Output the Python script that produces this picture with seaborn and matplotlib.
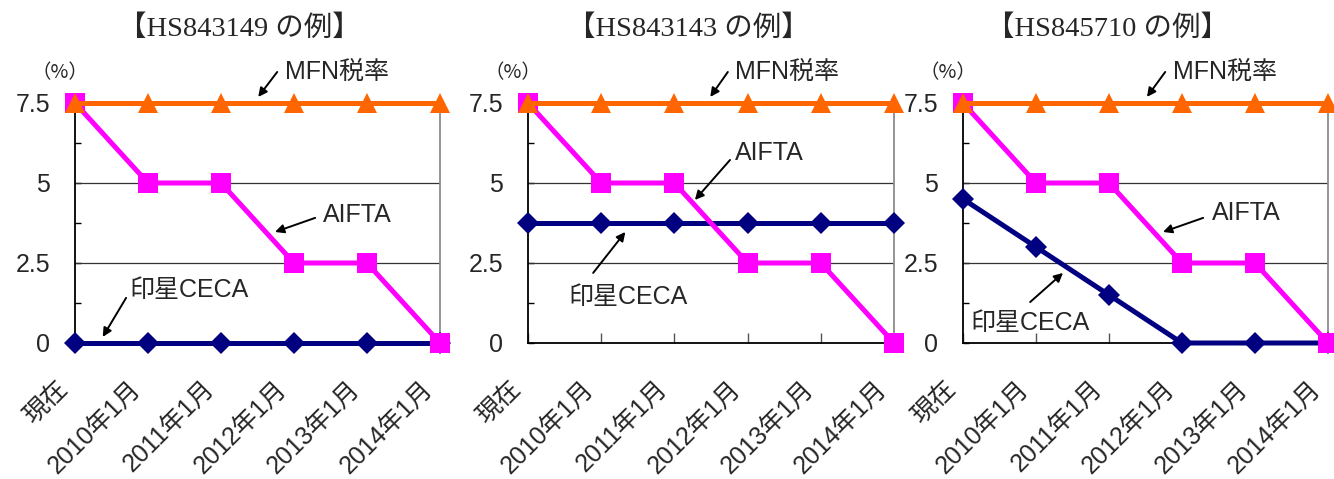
import matplotlib
matplotlib.use("Agg")
import matplotlib.pyplot as plt
from matplotlib.transforms import ScaledTranslation
import seaborn as sns
import pandas as pd

sns.set_theme(style="white")
plt.rcParams["font.family"] = ["Liberation Sans", "Noto Sans CJK JP"]

# ---- data -------------------------------------------------------------
periods = ["現在", "2010年1月", "2011年1月", "2012年1月", "2013年1月", "2014年1月"]
titles = ["【HS843149 の例】", "【HS843143 の例】", "【HS845710 の例】"]

mfn_rates = [
    [7.5, 7.5, 7.5, 7.5, 7.5, 7.5],
    [7.5, 7.5, 7.5, 7.5, 7.5, 7.5],
    [7.5, 7.5, 7.5, 7.5, 7.5, 7.5],
]
aifta_rates = [
    [7.5, 5.0, 5.0, 2.5, 2.5, 0.0],
    [7.5, 5.0, 5.0, 2.5, 2.5, 0.0],
    [7.5, 5.0, 5.0, 2.5, 2.5, 0.0],
]
ceca_rates = [
    [0.0, 0.0, 0.0, 0.0, 0.0, 0.0],
    [3.75, 3.75, 3.75, 3.75, 3.75, 3.75],
    [4.5, 3.0, 1.5, 0.0, 0.0, 0.0],
]
y_ticks = [0, 2.5, 5, 7.5]
y_tick_labels = ["0", "2.5", "5", "7.5"]

# ---- layout -----------------------------------------------------------
W, H, DPI = 1334, 479, 100
fig = plt.figure(figsize=(W / DPI, H / DPI), dpi=DPI, facecolor="white")

axes_px = [(75, 440), (528, 894), (963, 1328)]   # left / right edge of each plot
y_bottom_px, y_top_px = 343, 103
title_x_px = [239, 688, 1107]
title_y_px = 29

# annotation layout per panel: (text position, arrow tail, arrow head) in data units
notes = [
    {
        "MFN税率": ((2.88, 8.47), (2.77, 8.47), (2.51, 7.69)),
        "AIFTA": ((3.40, 4.00), (3.29, 3.91), (2.74, 3.47)),
        "印星CECA": ((0.75, 1.66), (0.70, 1.41), (0.38, 0.19)),
    },
    {
        "MFN税率": ((2.83, 8.47), (2.73, 8.47), (2.49, 7.69)),
        "AIFTA": ((2.83, 5.94), (2.76, 5.72), (2.28, 4.47)),
        "印星CECA": ((0.55, 1.44), (0.89, 2.19), (1.33, 3.47)),
    },
    {
        "MFN税率": ((2.88, 8.47), (2.77, 8.47), (2.52, 7.69)),
        "AIFTA": ((3.41, 4.06), (3.29, 3.91), (2.74, 3.47)),
        "印星CECA": ((0.10, 0.63), (0.92, 1.28), (1.37, 2.19)),
    },
]

ORANGE, MAGENTA, NAVY = "#FF6600", "#FF00FF", "#000080"
LW = 3.6

for i in range(3):
    l, r = axes_px[i]
    ax = fig.add_axes([l / W, (H - y_bottom_px) / H, (r - l) / W,
                       (y_bottom_px - y_top_px) / H])
    ax.set_facecolor("white")

    x = list(range(len(periods)))
    df = pd.DataFrame({"x": x, "mfn": mfn_rates[i], "aifta": aifta_rates[i],
                       "ceca": ceca_rates[i]})

    sns.lineplot(data=df, x="x", y="ceca", ax=ax, color=NAVY, lw=LW,
                 marker="D", markersize=11, markeredgewidth=0,
                 clip_on=False, zorder=3)
    sns.lineplot(data=df, x="x", y="aifta", ax=ax, color=MAGENTA, lw=LW,
                 marker="s", markersize=14, markeredgewidth=0,
                 clip_on=False, zorder=4)
    sns.lineplot(data=df, x="x", y="mfn", ax=ax, color=ORANGE, lw=LW,
                 marker="^", markersize=14, markeredgewidth=0,
                 clip_on=False, zorder=5)

    ax.set_xlim(0, len(periods) - 1)
    ax.set_ylim(0, 7.5)
    ax.set_xlabel("")
    ax.set_ylabel("")

    # horizontal gridlines
    for yv in (2.5, 5):
        ax.axhline(yv, color="#333333", lw=0.9, zorder=1)

    # spines
    ax.spines["top"].set_visible(False)
    ax.spines["left"].set_color("black")
    ax.spines["left"].set_linewidth(1.3)
    ax.spines["bottom"].set_color("black")
    ax.spines["bottom"].set_linewidth(1.3)
    ax.spines["right"].set_color("#8c8c8c")
    ax.spines["right"].set_linewidth(1.3)

    # y axis
    ax.set_yticks(y_ticks)
    ax.set_yticklabels(y_tick_labels)
    ax.set_yticks([1.25, 3.75, 6.25], minor=True)
    ax.tick_params(axis="y", which="both", direction="in", length=4, width=1,
                   color="black", pad=18, labelsize=18, left=True)

    # x axis
    ax.set_xticks(x)
    ax.set_xticklabels(periods, rotation=45, ha="right", va="top",
                       rotation_mode="anchor", fontsize=18)
    ax.tick_params(axis="x", which="major", direction="in", length=7, width=1,
                   color="#555555", pad=24, bottom=True)
    shift = ScaledTranslation(-14 / 72, 0, fig.dpi_scale_trans)
    for lab in ax.get_xticklabels():
        lab.set_transform(lab.get_transform() + shift)

    # unit label
    ax.text(-0.2, 8.44, "（%）", ha="center", va="center", fontsize=14,
            family=["Noto Sans CJK JP"], clip_on=False)

    # series annotations
    for label, (txt, tail, head) in notes[i].items():
        ax.annotate("", xy=head, xytext=tail,
                    arrowprops=dict(arrowstyle="-|>", color="black", lw=1.4,
                                    mutation_scale=13, shrinkA=0, shrinkB=0),
                    annotation_clip=False)
        ax.text(txt[0], txt[1], label, ha="left", va="center", fontsize=18,
                clip_on=False)

    # panel title
    fig.text(title_x_px[i] / W, 1 - title_y_px / H, titles[i], ha="center",
             va="center", fontsize=20.5,
             family=["Liberation Serif", "Noto Sans CJK JP"])

fig.savefig("out.png", dpi=DPI, facecolor="white")
